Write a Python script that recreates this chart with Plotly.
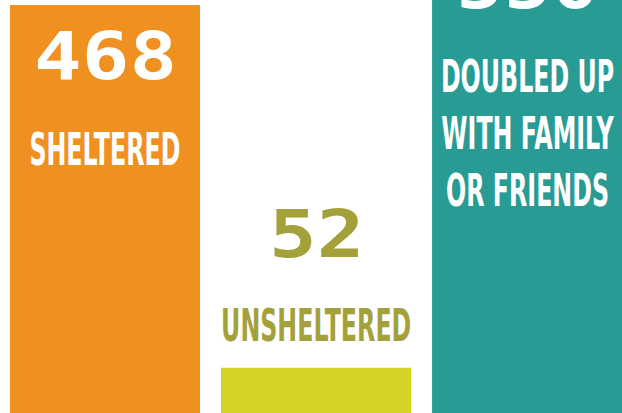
import plotly.graph_objects as go

categories = ["Sheltered", "Unsheltered", "Doubled up with family or friends"]
values = [468, 52, 550]
value_labels = ["468", "52", "550"]
category_labels = ["SHELTERED", "UNSHELTERED", "DOUBLED UP<br>WITH FAMILY<br>OR FRIENDS"]
bar_colors = ["#EF9021", "#D4D224", "#289B94"]
value_colors = ["#FFFFFF", "#A4A13A", "#FFFFFF"]
label_colors = ["#FFFFFF", "#A4A13A", "#FFFFFF"]

# pixel offsets from bar top (positive = up)
value_shift = [-52, 133, -52]
label_shift = [-145, 42, -200]

W, H = 622, 413
y_max = 473.7
px_per_unit = H / y_max

x = list(range(len(categories)))
fig = go.Figure(go.Bar(x=x, y=values, marker_color=bar_colors, width=0.9,
                       marker_line_width=0, hoverinfo="skip"))

num_font = "DejaVu Sans Mono"
lab_font = "DejaVu Sans"
for i in x:
    anchor = min(values[i], y_max * 0.99)
    extra = (values[i] - anchor) * px_per_unit
    fig.add_annotation(x=i, y=anchor, text=value_labels[i], showarrow=False,
                       yshift=value_shift[i] + extra, yanchor="middle", xanchor="center",
                       font=dict(family=num_font, size=66, color=value_colors[i], weight="bold"))
    fig.add_annotation(x=i, y=anchor, text=category_labels[i], showarrow=False,
                       yshift=label_shift[i] + extra, yanchor="middle", xanchor="center",
                       font=dict(family=lab_font, size=44, color=label_colors[i],
                                 weight="bold"))

fig.update_layout(
    width=W, height=H, margin=dict(l=0, r=0, t=0, b=0),
    paper_bgcolor="white", plot_bgcolor="white", showlegend=False,
    xaxis=dict(range=[-0.4976, 2.45], visible=False, fixedrange=True),
    yaxis=dict(range=[0, y_max], visible=False, fixedrange=True),
)

post = """
document.body.style.margin='0';
document.body.style.overflow='hidden';
document.querySelectorAll('.annotation-text').forEach(function(t){
  var mono = (t.style.fontFamily || '').indexOf('Mono') >= 0;
  t.style.transformBox = 'fill-box';
  t.style.transformOrigin = 'center';
  t.style.transform = mono ? 'scaleX(1.2)' : 'scaleX(0.54)';
});
"""
fig.write_html("out.html", config={"displayModeBar": False}, post_script=post)
